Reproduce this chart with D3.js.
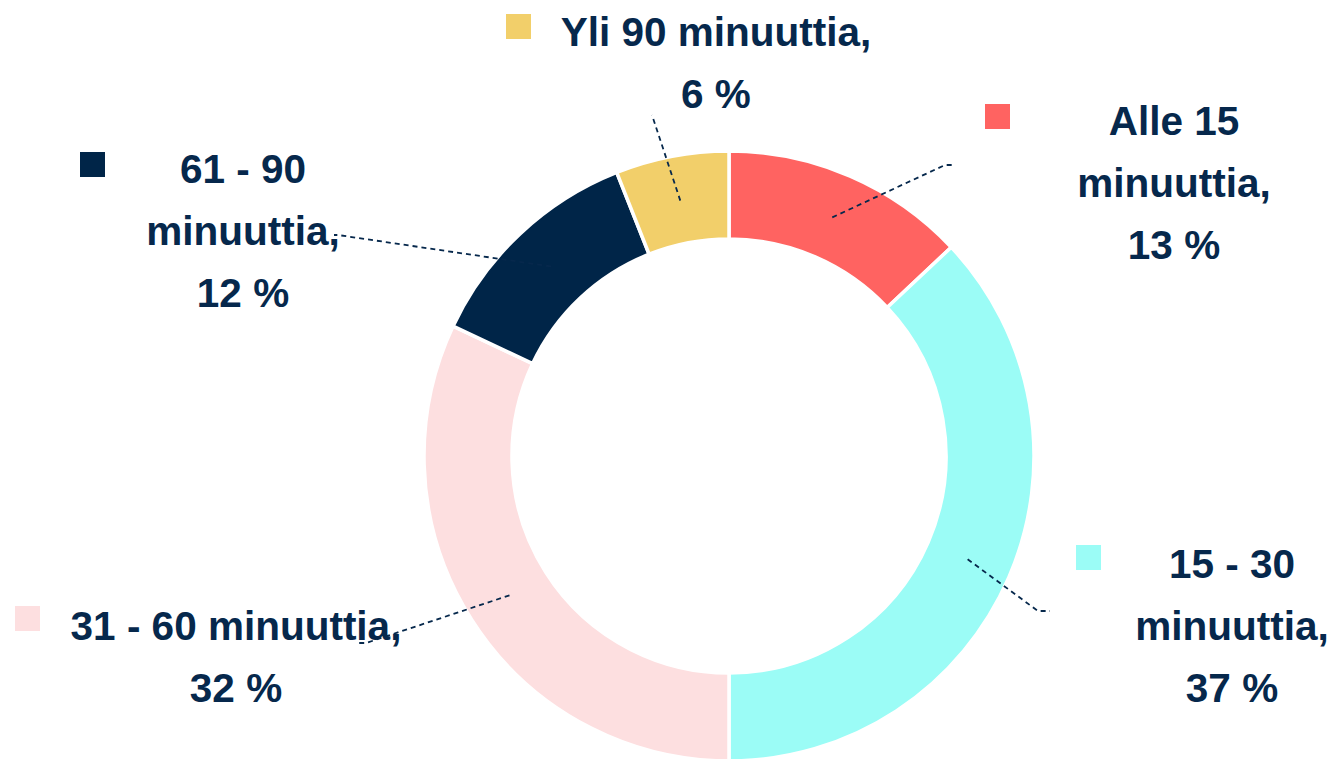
<!DOCTYPE html>
<html>
<head>
<meta charset="utf-8">
<script src="https://cdn.jsdelivr.net/npm/d3@7"></script>
<style>
  html, body { margin: 0; padding: 0; background: #fff; }
  svg { display: block; }
</style>
</head>
<body>
<div id="chart"></div>
<script>
// data
const categories = ['Alle 15 minuuttia', '15 - 30 minuuttia', '31 - 60 minuuttia', '61 - 90 minuuttia', 'Yli 90 minuuttia'];
const values = [13, 37, 32, 12, 6];
const colors = ['#FF6361', '#9BFCF6', '#FDDFE0', '#002548', '#F2CF6A'];
// how each label text breaks into lines
const labelLines = [
    ['Alle 15', 'minuuttia,', '13 %'],
    ['15 - 30', 'minuuttia,', '37 %'],
    ['31 - 60 minuuttia,', '32 %'],
    ['61 - 90', 'minuuttia,', '12 %'],
    ['Yli 90 minuuttia,', '6 %']
];

const width = 1337;
const height = 759;
const cx = 729, cy = 456;
const outerR = 305, innerR = 217;
const textColor = '#06284C';
const lineH = 62;

// label layout: text centre x, first baseline y, legend square, leader end + tail
const labelPos = [
    { x: 1174, y: 135, sq: [985, 104], end: [945, 165], tail: 10 },
    { x: 1232, y: 578, sq: [1076, 545], end: [1038, 611], tail: 12 },
    { x: 236, y: 640, sq: [15, 606], end: [366, 643], tail: -9 },
    { x: 243, y: 183, sq: [80, 152], end: [338, 235], tail: -4 },
    { x: 716, y: 46, sq: [506, 14], end: [652, 115], tail: 0 }
];

const svg = d3.select('#chart')
    .append('svg')
    .attr('width', width)
    .attr('height', height);

const pie = d3.pie().sort(null).value(d => d)(values);
const arc = d3.arc().innerRadius(innerR).outerRadius(outerR);
const midArc = d3.arc().innerRadius(260).outerRadius(260);

const g = svg.append('g').attr('transform', `translate(${cx},${cy})`);

g.selectAll('path.slice')
    .data(pie)
    .enter()
    .append('path')
    .attr('class', 'slice')
    .attr('d', arc)
    .attr('fill', (d, i) => colors[i])
    .attr('stroke', '#fff')
    .attr('stroke-width', 3.5);

// leader lines
svg.selectAll('path.leader')
    .data(pie)
    .enter()
    .append('path')
    .attr('class', 'leader')
    .attr('d', (d, i) => {
        const c = midArc.centroid(d);
        const p = labelPos[i];
        const sx = cx + c[0], sy = cy + c[1];
        return `M${sx},${sy}L${p.end[0]},${p.end[1]}h${p.tail}`;
    })
    .attr('fill', 'none')
    .attr('stroke', textColor)
    .attr('stroke-width', 1.8)
    .attr('stroke-dasharray', '5,4');

// legend squares
svg.selectAll('rect.key')
    .data(categories)
    .enter()
    .append('rect')
    .attr('class', 'key')
    .attr('x', (d, i) => labelPos[i].sq[0])
    .attr('y', (d, i) => labelPos[i].sq[1])
    .attr('width', 25)
    .attr('height', 25)
    .attr('fill', (d, i) => colors[i]);

// label texts
const labels = svg.selectAll('text.lbl')
    .data(categories)
    .enter()
    .append('text')
    .attr('class', 'lbl')
    .attr('text-anchor', 'middle')
    .attr('font-family', '"Liberation Sans", Arial, sans-serif')
    .attr('font-weight', 'bold')
    .attr('font-size', 40.5)
    .attr('fill', textColor);

labels.each(function (d, i) {
    const p = labelPos[i];
    d3.select(this).selectAll('tspan')
        .data(labelLines[i])
        .enter()
        .append('tspan')
        .attr('x', p.x)
        .attr('y', (t, j) => p.y + j * lineH)
        .text(t => t);
});
</script>
</body>
</html>
